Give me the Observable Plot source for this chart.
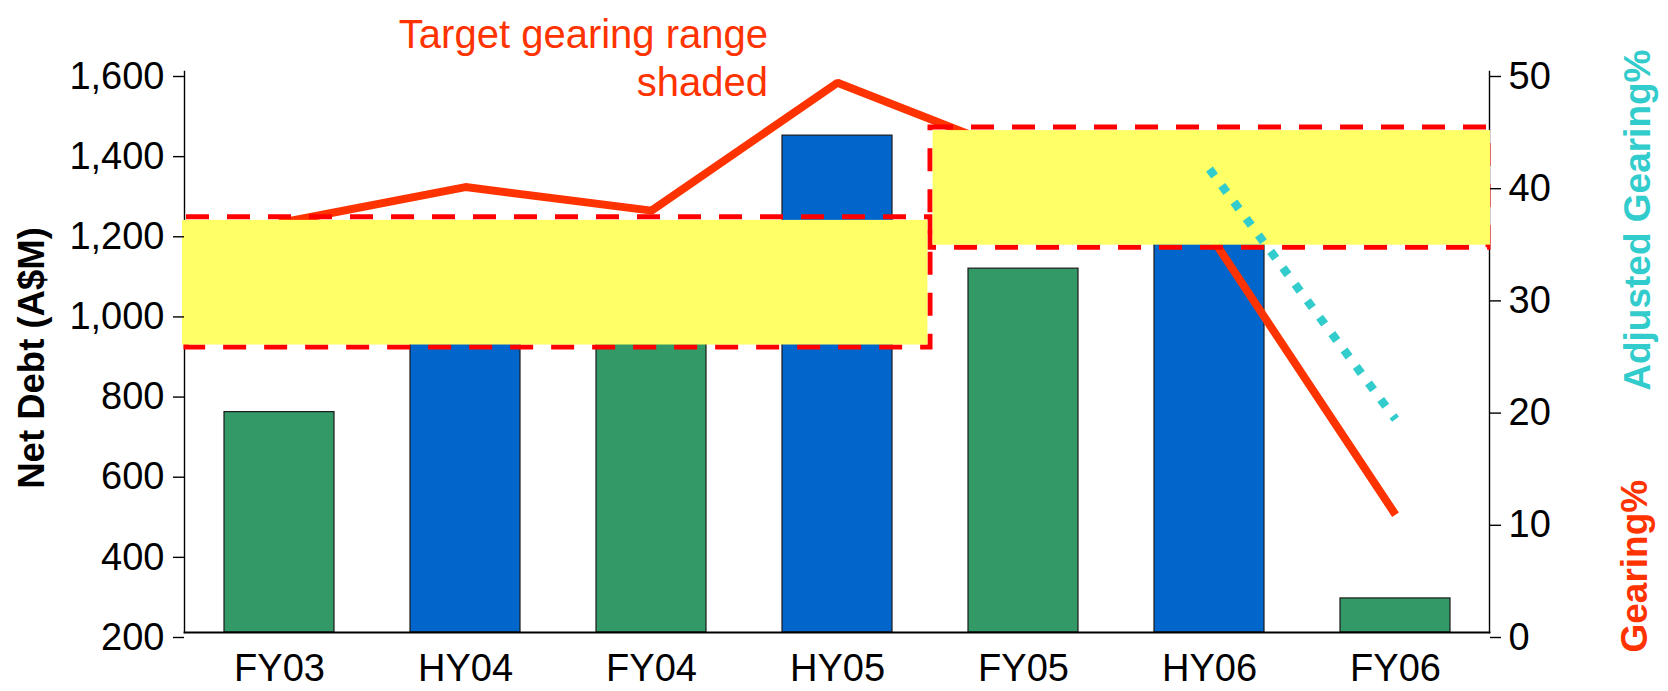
<!DOCTYPE html>
<html>
<head>
<meta charset="utf-8">
<script src="https://cdn.jsdelivr.net/npm/d3@7"></script>
<script src="https://cdn.jsdelivr.net/npm/@observablehq/plot@0.6"></script>
<style>
  html, body { margin: 0; padding: 0; background: #fff; color: #000; }
  #wrap { position: relative; width: 1668px; height: 691px; overflow: hidden;
          font-family: "Liberation Sans", Arial, sans-serif; }
  #title { position: absolute; right: 900px; top: 10px; z-index: 2; text-align: right;
           color: #FF3300; font-size: 40px; line-height: 48px; white-space: nowrap; }
</style>
</head>
<body>
<div id="wrap"><div id="title">Target gearing range<br>shaded</div></div>
<script>
// ---- data ----
const categories = ["FY03", "HY04", "FY04", "HY05", "FY05", "HY06", "FY06"];
const periodTypes = ["FY", "HY", "FY", "HY", "FY", "HY", "FY"];
const netDebt = [750, 1000, 960, 1440, 1108, 1250, 285];          // A$M (left axis)
const gearing = [36.5, 39.7, 37.6, 49.0, 42.5, 35.5, 10.5];       // % (right axis)
const adjCategories = ["HY06", "FY06"];
const adjGearing = [41.3, 19.0];                                  // % (right axis)
const targetFrom = ["FY03", "FY05"];
const targetTo = ["HY05", "FY06"];
const targetLow = [25.4, 34.3];
const targetHigh = [37.0, 45.0];
const leftTicks = [200, 400, 600, 800, 1000, 1200, 1400, 1600];
const rightTicks = [0, 10, 20, 30, 40, 50];
const leftDomain = [200, 1600];
const rightDomain = [0, 50];

// right axis (gearing %) mapped onto the left (A$M) scale
const g2y = g => leftDomain[0] + (g - rightDomain[0]) * (leftDomain[1] - leftDomain[0]) / (rightDomain[1] - rightDomain[0]);
const y2g = v => rightDomain[0] + (v - leftDomain[0]) * (rightDomain[1] - rightDomain[0]) / (leftDomain[1] - leftDomain[0]);

const bars = categories.map((c, i) => ({cat: c, debt: netDebt[i], type: periodTypes[i]}));
const gear = categories.map((c, i) => ({cat: c, g: gearing[i]}));
const adj = adjCategories.map((c, i) => ({cat: c, g: adjGearing[i]}));
const targets = targetFrom.map((f, i) => ({from: f, to: targetTo[i], lo: targetLow[i], hi: targetHigh[i]}));

const FONT = "'Liberation Sans', Arial, sans-serif";
const boxY = {y1: d => g2y(d.lo), y2: d => g2y(d.hi)};

const chart = Plot.plot({
  width: 1668,
  height: 691,
  marginLeft: 184,
  marginRight: 179,
  marginTop: 71,
  marginBottom: 59,
  style: {fontFamily: FONT, fontSize: "38px", background: "white", color: "black", overflow: "visible"},
  x: {type: "band", domain: categories, padding: 0, axis: null},
  y: {domain: leftDomain, axis: null},
  color: {domain: ["FY", "HY"], range: ["#339966", "#0066CC"]},
  marks: [
    Plot.barY(bars, {x: "cat", y1: leftDomain[0], y2: "debt", fill: "type",
      stroke: "#1a1a1a", strokeWidth: 1.2, insetLeft: 38, insetRight: 38}),
    Plot.frame({anchor: "left", stroke: "#000", strokeWidth: 1.4}),
    Plot.frame({anchor: "right", stroke: "#000", strokeWidth: 1.4}),
    Plot.frame({anchor: "bottom", stroke: "#000", strokeWidth: 1.8}),
    Plot.line(gear, {x: "cat", y: d => g2y(d.g), stroke: "#FF3300", strokeWidth: 8,
      strokeLinejoin: "miter", strokeLinecap: "butt"}),
    // dashed outlines of the target ranges
    Plot.rect(targets, {x1: "from", x2: "to", ...boxY,
      fill: "none", stroke: "#FF0000", strokeWidth: 5, strokeDasharray: "23 18"}),
    // yellow shading (outer vertical edges covered, shared middle edge left visible)
    Plot.rect(targets.slice(0, 1), {x1: "from", x2: "to", ...boxY,
      fill: "#FFFF66", insetTop: 3, insetBottom: 2.5, insetLeft: -4, insetRight: 2.6}),
    Plot.rect(targets.slice(1), {x1: "from", x2: "to", ...boxY,
      fill: "#FFFF66", insetTop: 3, insetBottom: 2.5, insetLeft: 2.6, insetRight: -2}),
    Plot.line(adj, {x: "cat", y: d => g2y(d.g), stroke: "#33CCCC", strokeWidth: 8.5,
      strokeDasharray: "8.5 12", strokeLinecap: "butt"}),
    Plot.axisY(leftTicks, {anchor: "left", tickFormat: d3.format(","), tickSize: 11,
      tickPadding: 9, fontSize: 38, dy: 5, label: null, strokeWidth: 1.4}),
    Plot.axisY(rightTicks.map(g2y), {anchor: "right", tickFormat: d => String(Math.round(y2g(d))),
      tickSize: 11, tickPadding: 8, fontSize: 38, dy: 5, label: null, strokeWidth: 1.4}),
    Plot.axisX({tickSize: 0, tickPadding: 22, fontSize: 38, label: null}),
    Plot.text(["Net Debt (A$M)"], {frameAnchor: "left", rotate: -90, lineAnchor: "top",
      textAnchor: "middle", dx: -166, dy: 6, fontWeight: "bold", fontSize: 36.5, fill: "#000"}),
    Plot.text(["Adjusted Gearing%"], {frameAnchor: "top-right", rotate: -90, lineAnchor: "top",
      textAnchor: "end", dx: 134, dy: -22, fontWeight: "bold", fontSize: 37, fill: "#33CCCC"}),
    Plot.text(["Gearing%"], {frameAnchor: "bottom-right", rotate: -90, lineAnchor: "top",
      textAnchor: "start", dx: 131, dy: 20, fontWeight: "bold", fontSize: 37, fill: "#FF3300"})
  ]
});
chart.style.position = "absolute";
chart.style.left = "0";
chart.style.top = "0";
document.getElementById("wrap").appendChild(chart);
</script>
</body>
</html>
